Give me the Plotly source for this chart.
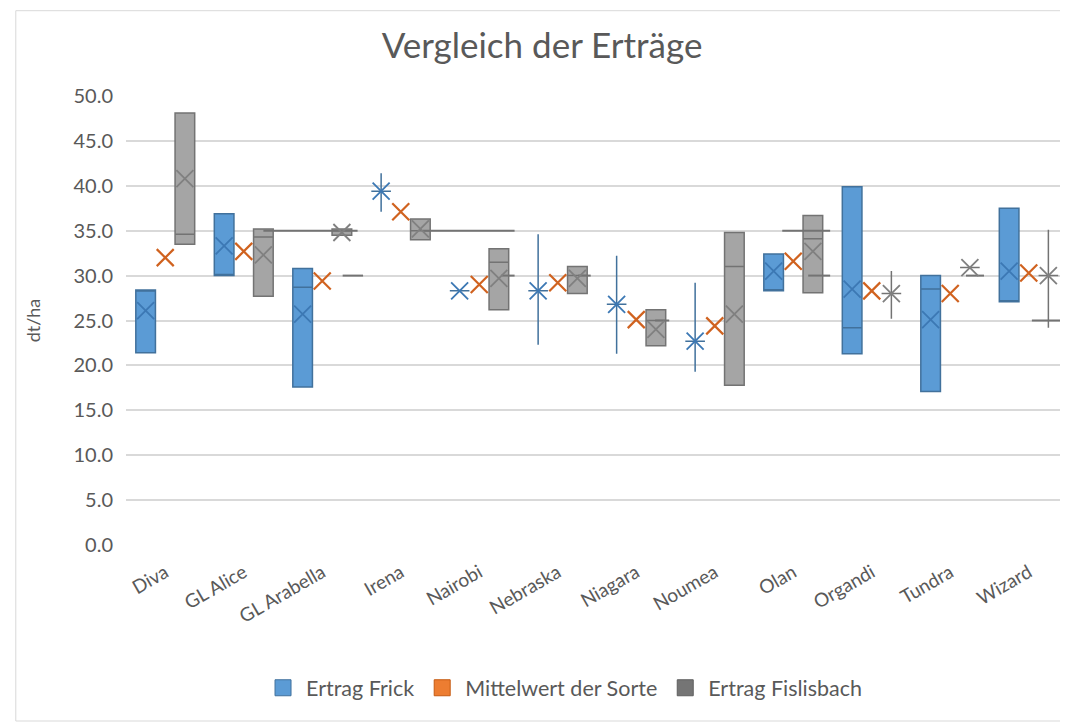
import plotly.graph_objects as go

categories = ["Diva", "GL Alice", "GL Arabella", "Irena", "Nairobi", "Nebraska",
              "Niagara", "Noumea", "Olan", "Organdi", "Tundra", "Wizard"]

# Ertrag Frick
frick_low = [21.4, 30.0, 17.6, 37.1, 28.3, 22.3, 21.3, 19.3, 28.3, 21.3, 17.1, 27.1]
frick_q1 = [21.4, 30.0, 17.6, 39.4, 28.3, 28.3, 26.8, 22.7, 28.3, 21.3, 17.1, 27.1]
frick_med = [28.4, 30.0, 28.7, 39.4, 28.3, 28.3, 26.8, 22.7, 28.3, 24.2, 28.5, 27.1]
frick_q3 = [28.4, 36.9, 30.8, 39.4, 28.3, 28.3, 26.8, 22.7, 32.4, 39.9, 30.0, 37.5]
frick_high = [28.4, 36.9, 30.8, 41.4, 28.3, 34.6, 32.2, 29.2, 32.4, 39.9, 30.0, 37.5]
frick_mean = [26.1, 33.3, 25.7, 39.4, 28.3, 28.3, 26.8, 22.7, 30.5, 28.5, 25.1, 30.5]

# Mittelwert der Sorte
sorte_mean = [32.0, 32.7, 29.4, 37.1, 29.0, 29.2, 25.1, 24.4, 31.6, 28.3, 28.0, 30.3]

# Ertrag Fislisbach
fis_low = [33.5, 27.7, 34.5, 34.0, 26.2, 28.0, 22.2, 17.8, 28.1, 25.2, 30.9, 24.2]
fis_q1 = [33.5, 27.7, 34.5, 34.0, 26.2, 28.0, 22.2, 17.8, 28.1, 28.0, 30.9, 30.0]
fis_med = [34.6, 34.3, 35.0, 35.0, 31.5, 30.0, 25.0, 31.0, 34.1, 28.0, 30.9, 30.0]
fis_q3 = [48.1, 35.2, 35.2, 36.3, 33.0, 31.0, 26.2, 34.8, 36.7, 28.0, 30.9, 30.0]
fis_high = [48.1, 35.2, 35.2, 36.3, 33.0, 31.0, 26.2, 34.8, 36.7, 30.5, 30.9, 35.1]
fis_mean = [40.8, 32.3, 34.8, 35.2, 29.7, 29.7, 24.0, 25.7, 32.7, 28.0, 30.9, 30.0]

# stray horizontal whisker segments of the Fislisbach series (category units, value)
seg_start = [1.25, 2.26, 3.28, 4.28, 5.26, 6.24, 7.86, 8.19, 10.2, 11.04]
seg_end = [2.45, 2.52, 4.45, 4.45, 5.42, 6.42, 8.47, 8.47, 10.43, 11.52]
seg_value = [35.0, 30.0, 35.0, 30.0, 30.0, 25.0, 35.0, 30.0, 30.0, 25.0]

series_names = ["Ertrag Frick", "Mittelwert der Sorte", "Ertrag Fislisbach"]

BLUE = "#5B9BD5"
BLUE_D = "#41719C"
ORANGE = "#ED7D31"
GRAY = "#A5A5A5"
GRAY_D = "#737373"
TXT = "#595959"
FONT = "Lato, 'Open Sans', sans-serif"

idx = list(range(len(categories)))
OFF = 0.25
W = 0.25

fig = go.Figure()

fig.add_trace(go.Box(
    name=series_names[0], x=[i - OFF for i in idx],
    q1=frick_q1, median=frick_med, q3=frick_q3,
    lowerfence=frick_low, upperfence=frick_high,
    width=W, whiskerwidth=0, fillcolor=BLUE, showlegend=False,
    line=dict(color=BLUE_D, width=1.5), marker=dict(color=BLUE),
    boxpoints=False, hoverinfo="skip"))

fig.add_trace(go.Box(
    name=series_names[2], x=[i + OFF for i in idx],
    q1=fis_q1, median=fis_med, q3=fis_q3,
    lowerfence=fis_low, upperfence=fis_high,
    width=W, whiskerwidth=0, fillcolor=GRAY, showlegend=False,
    line=dict(color=GRAY_D, width=1.5), boxpoints=False, hoverinfo="skip"))

# stray whisker segments
sx, sy = [], []
for a, b, v in zip(seg_start, seg_end, seg_value):
    sx += [a, b, None]
    sy += [v, v, None]
fig.add_trace(go.Scatter(x=sx, y=sy, mode="lines", showlegend=False,
                         line=dict(color=GRAY_D, width=2), hoverinfo="skip"))

# mean markers
fig.add_trace(go.Scatter(
    x=[i - OFF for i in idx], y=frick_mean, mode="markers", showlegend=False,
    marker=dict(symbol="x-thin-open", size=17, color="#3C78B4", line=dict(width=1.8))))
fig.add_trace(go.Scatter(
    x=idx, y=sorte_mean, mode="markers", showlegend=False,
    marker=dict(symbol="x-thin-open", size=17, color="#D0621F", line=dict(width=2.2))))
fig.add_trace(go.Scatter(
    x=[i + OFF for i in idx], y=fis_mean, mode="markers", showlegend=False,
    marker=dict(symbol="x-thin-open", size=17, color="#808080", line=dict(width=1.8))))

# legend entries
for nm, col, lc in zip(series_names, [BLUE, ORANGE, "#757575"], [BLUE_D, "#C55A11", "#5F5F5F"]):
    fig.add_trace(go.Scatter(x=[None], y=[None], mode="markers", name=nm,
                             marker=dict(symbol="square", size=16, color=col,
                                         line=dict(color=lc, width=1))))

fig.update_layout(
    width=1068, height=726,
    margin=dict(l=118, r=8, t=88, b=189),
    paper_bgcolor="white", plot_bgcolor="white",
    font=dict(family=FONT, color=TXT, size=18),
    title=dict(text="Vergleich der Erträge", x=0.5, xanchor="center",
               y=0.948, yanchor="middle", font=dict(size=35, color=TXT)),
    showlegend=True,
    legend=dict(orientation="h", x=0.465, xanchor="center", y=-0.318, yanchor="middle",
                font=dict(size=21.5, color=TXT), traceorder="normal",
                itemsizing="trace", itemwidth=36),
    xaxis=dict(range=[-0.5, 11.5], tickmode="array", tickvals=idx, ticktext=categories,
               tickangle=-30, showgrid=False, zeroline=False, showline=False,
               ticks="", ticklabelstandoff=12, tickfont=dict(size=19, color=TXT)),
    yaxis=dict(range=[0, 50], dtick=5, tickformat=".1f", showgrid=True,
               gridcolor="#D9D9D9", gridwidth=1.5, zeroline=False, showline=False,
               ticks="", ticklabelstandoff=12, tickfont=dict(size=20, color=TXT),
               title=dict(text="dt/ha", font=dict(size=18, color=TXT), standoff=28)),
    shapes=[dict(type="rect", xref="paper", yref="paper",
                 x0=-0.117, x1=1.0, y0=-0.392, y1=1.19,
                 line=dict(color="#D9D9D9", width=1), fillcolor="rgba(0,0,0,0)",
                 layer="below")],
)

fig.write_html("out.html")
